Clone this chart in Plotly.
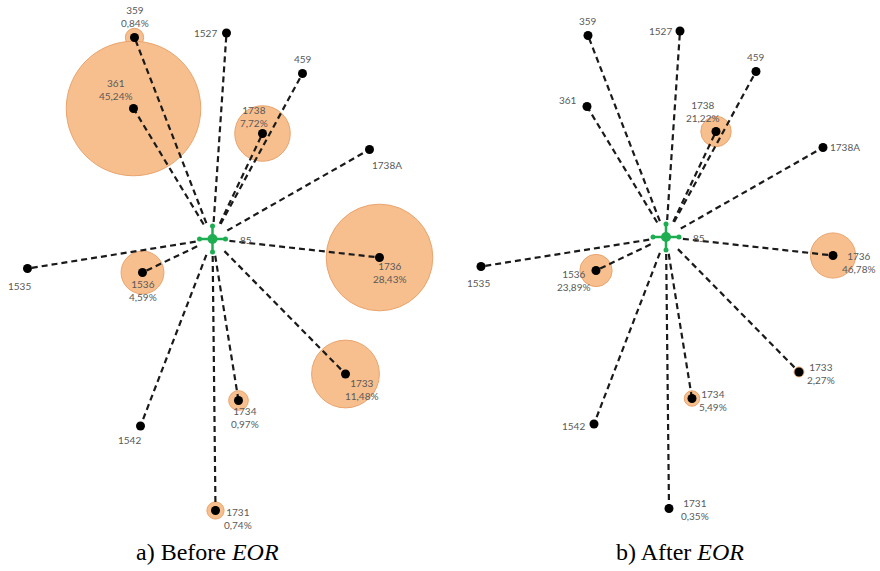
import numpy as np
import plotly.graph_objects as go

# ---------------- data ----------------
wells = ["359", "1527", "361", "459", "1738", "1738A", "1736",
         "1535", "1536", "1733", "1734", "1542", "1731"]
# well positions relative to injector 85 (map units, y up)
well_x = [-78, 14, -79, 90, 50, 157, 167, -185, -70, 133, 26, -72, 3]
well_y = [201.5, 206, 130.5, 165.5, 105.5, 89.5, -18.5, -29.5, -33.5, -135, -161.5, -187, -271.5]
injector = "85"

# tracer recovery (%) per well, None = no response
before_eor = [0.84, None, 45.24, None, 7.72, None, 28.43, None, 4.59, 11.48, 0.97, None, 0.74]
after_eor = [None, None, None, None, 21.22, None, 46.78, None, 23.89, 2.27, 5.49, None, 0.35]

captions = ["a) Before <i>EOR</i>", "b) After <i>EOR</i>"]

# ---------------- styles ----------------
BUBBLE_FILL = "#F7BF8E"
BUBBLE_EDGE = "#E9A46E"
GREEN = "#1DAE52"
LABEL_COLOR = "#595959"
LABEL_FONT = "Lato"

# label offsets (px, y up) per panel
label_off_a = {
    "359": (0, 21), "1527": (-21, 0), "361": (-18, 19), "459": (0, 15),
    "1738": (-9, 17.5), "1738A": (17, -15), "1736": (10, -15), "1535": (-8, -17),
    "1536": (0, -18), "1733": (16, -15), "1734": (6, -16.5), "1542": (-11, -14),
    "1731": (22, -8),
}
label_off_b = {
    "359": (0, 15), "1527": (-20, 0), "361": (-19, 7), "459": (0, 15),
    "1738": (-13, 20.5), "1738A": (22, 1), "1736": (26, -6.5), "1535": (-3, -16),
    "1536": (-22, -10), "1733": (22, -1), "1734": (21, -1.5), "1542": (-21, -2),
    "1731": (26, -1),
}

panels = [
    dict(values=before_eor, k=10.0, xa="x", ya="y", offs=label_off_a),
    dict(values=after_eor, k=3.3, xa="x2", ya="y2", offs=label_off_b),
]

fig = go.Figure()
annotations = []
wx = np.array(well_x, float)
wy = np.array(well_y, float)
GAP = 17.0

for p in panels:
    vals = p["values"]
    # bubbles
    bx, by, bs = [], [], []
    for x, y, v in zip(wx, wy, vals):
        if v is not None:
            bx.append(x); by.append(y); bs.append(2 * p["k"] * np.sqrt(v))
    fig.add_trace(go.Scatter(
        x=bx, y=by, mode="markers", xaxis=p["xa"], yaxis=p["ya"],
        marker=dict(size=bs, color=BUBBLE_FILL, line=dict(color=BUBBLE_EDGE, width=1),
                    opacity=1),
        hoverinfo="skip", showlegend=False))
    # dashed connections injector -> well
    lx, ly = [], []
    for x, y in zip(wx, wy):
        d = np.hypot(x, y)
        lx += [x * GAP / d, x, None]
        ly += [y * GAP / d, y, None]
    fig.add_trace(go.Scatter(
        x=lx, y=ly, mode="lines", xaxis=p["xa"], yaxis=p["ya"],
        line=dict(color="#1a1a1a", width=2.2, dash="6px,4px"),
        hoverinfo="skip", showlegend=False))
    # well dots
    fig.add_trace(go.Scatter(
        x=wx, y=wy, mode="markers", xaxis=p["xa"], yaxis=p["ya"],
        marker=dict(size=9, color="black"), hoverinfo="skip", showlegend=False))
    # injector symbol
    arm = 13
    fig.add_trace(go.Scatter(
        x=[-arm, arm, None, 0, 0], y=[0, 0, None, -arm, arm], mode="lines",
        xaxis=p["xa"], yaxis=p["ya"], line=dict(color=GREEN, width=2.5),
        hoverinfo="skip", showlegend=False))
    fig.add_trace(go.Scatter(
        x=[-arm, arm, 0, 0], y=[0, 0, -arm, arm], mode="markers",
        xaxis=p["xa"], yaxis=p["ya"], marker=dict(size=5, color=GREEN),
        hoverinfo="skip", showlegend=False))
    fig.add_trace(go.Scatter(
        x=[0], y=[0], mode="markers", xaxis=p["xa"], yaxis=p["ya"],
        marker=dict(size=10, color=GREEN), hoverinfo="skip", showlegend=False))
    # labels
    for name, x, y, v in zip(wells, wx, wy, vals):
        txt = name if v is None else f"{name}<br>{v:.2f}%".replace(".", ",")
        dx, dy = p["offs"][name]
        annotations.append(dict(
            x=x, y=y, xref=p["xa"], yref=p["ya"], text=txt, showarrow=False,
            xshift=dx, yshift=dy, xanchor="center", yanchor="middle",
            font=dict(family=LABEL_FONT, size=10, color=LABEL_COLOR)))
    annotations.append(dict(
        x=0, y=0, xref=p["xa"], yref=p["ya"], text=injector, showarrow=False,
        xshift=33, yshift=-1, xanchor="center", yanchor="middle",
        font=dict(family=LABEL_FONT, size=10, color=LABEL_COLOR)))

for cap, cx in zip(captions, [207 / 880, 680 / 880]):
    annotations.append(dict(
        x=cx, y=1 - 552 / 571, xref="paper", yref="paper", text=cap, showarrow=False,
        xanchor="center", yanchor="middle",
        font=dict(family="Liberation Serif", size=24, color="black")))

ax_common = dict(showgrid=False, zeroline=False, showticklabels=False, showline=False,
                 ticks="", fixedrange=True)
fig.update_layout(
    width=880, height=571, margin=dict(l=0, r=0, t=0, b=0),
    paper_bgcolor="white", plot_bgcolor="white",
    xaxis=dict(domain=[0, 0.5], range=[-212.5, 227.5], **ax_common),
    yaxis=dict(domain=[0, 1], range=[-332, 239], anchor="x", **ax_common),
    xaxis2=dict(domain=[0.5, 1], range=[-226, 214], anchor="y2", **ax_common),
    yaxis2=dict(domain=[0, 1], range=[-334, 237], anchor="x2", **ax_common),
    annotations=annotations,
)

fig.write_html("out.html", config={"displayModeBar": False, "staticPlot": True},
               post_script="document.body.style.margin='0';"
                           "document.body.style.overflow='hidden';")
